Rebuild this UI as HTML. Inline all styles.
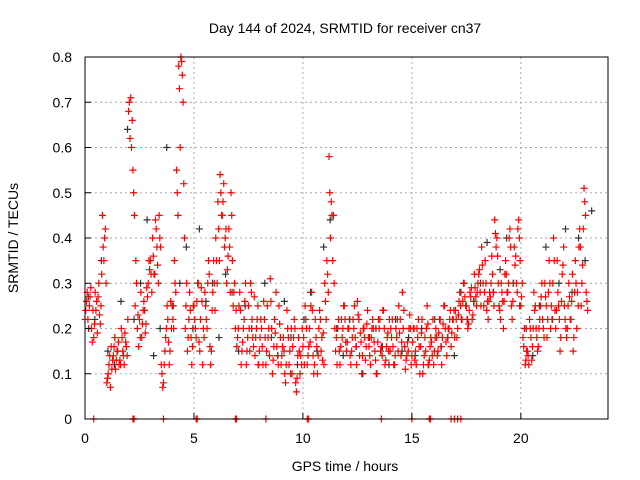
<!DOCTYPE html>
<html><head><meta charset="utf-8"><style>
body{margin:0;background:#fff;width:640px;height:480px;overflow:hidden}
svg{display:block}
text{font-family:"Liberation Sans",sans-serif;font-size:14px;fill:#000}
</style></head><body>
<svg id="chart" width="640" height="480">
<text x="345" y="33" text-anchor="middle">Day 144 of 2024, SRMTID for receiver cn37</text>
<text x="345" y="471" text-anchor="middle">GPS time / hours</text>
<text transform="translate(18,238) rotate(-90)" text-anchor="middle">SRMTID / TECUs</text>
<g id="grid"></g><g id="marks"></g>
<rect x="85" y="57" width="523" height="362" fill="none" stroke="#000" stroke-width="1"/>
<g id="ticks"></g>
</svg>
<script>
const xTicks=[0,5,10,15,20];
const yTicks=[0,0.1,0.2,0.3,0.4,0.5,0.6,0.7,0.8];
const yTickLabels=["0","0.1","0.2","0.3","0.4","0.5","0.6","0.7","0.8"];
const sampleStep=0.1;
const redA=[.22,.28,.25,.20,.18,.24,.27,.21,.45,.40,
.08,.12,.16,.14,.11,.15,.13,.18,.12,.16,
.68,.71,.55,.25,.20,.22,.18,.26,.21,.30,
.35,.40,.32,.38,.45,.12,.08,.18,.22,.15,
.25,.35,.55,.78,.80,.70,.20,.15,.28,.12,
.25,.18,.30,.22,.12,.28,.20,.32,.15,.35,
.40,.48,.54,.45,.38,.30,.42,.50,.25,.20,
.18,.28,.15,.22,.12,.25,.30,.18,.14,.22,
.15,.20,.26,.12,.18,.31,.10,.22,.16,.25,
.12,.18,.08,.20,.15,.10,.22,.06,.18,.14,
.16,.25,.12,.20,.28,.10,.18,.14,.22,.13,
.30,.35,.58,.48,.45,.15,.20,.12,.18,.25,
.15,.20,.12,.22,.18,.26,.14,.10,.20,.16,
.18,.12,.22,.15,.10,.20,.16,.24,.13,.19,
.15,.22,.12,.18,.25,.14,.20,.11,.17,.23,
.14,.20,.12,.22,.16,.10,.18,.25,.13,.17,
.12,.20,.15,.22,.18,.25,.14,.20,.16,.22,
.24,.20,.28,.22,.30,.25,.21,.27,.23,.29,
.28,.33,.38,.25,.30,.22,.27,.32,.44,.40,
.25,.30,.20,.35,.28,.42,.22,.38,.30,.44,
.25,.18,.12,.15,.22,.13,.28,.20,.16,.25,
.22,.30,.18,.35,.25,.40,.20,.28,.15,.32,
.25,.18,.30,.22,.15,.35,.28,.42,.30,.51,.28];
const redB=[.26,.20,.29,.24,.28,.19,.23,.32,.35,.30,
.10,.07,.13,.18,.15,.12,.20,.14,.17,.22,
.62,.66,.45,.30,.16,.28,.24,.19,.27,.33,
.28,.32,.42,.30,.38,.07,.15,.25,.12,.20,
.20,.28,.45,.60,.76,.40,.30,.22,.18,.25,
.20,.30,.15,.26,.18,.22,.35,.12,.28,.24,
.30,.35,.45,.52,.42,.36,.28,.35,.30,.16,
.25,.12,.20,.30,.18,.15,.22,.27,.20,.12,
.22,.12,.18,.25,.14,.20,.16,.28,.12,.18,
.16,.10,.24,.12,.20,.18,.08,.14,.10,.20,
.12,.20,.16,.25,.14,.22,.10,.24,.18,.12,
.22,.28,.40,.35,.20,.12,.15,.22,.25,.17,
.20,.14,.18,.25,.12,.22,.17,.20,.13,.24,
.14,.20,.17,.10,.22,.15,.24,.12,.18,.22,
.18,.12,.20,.15,.22,.28,.16,.14,.20,.12,
.20,.15,.18,.10,.22,.14,.20,.12,.18,.22,
.18,.14,.22,.12,.25,.17,.20,.24,.22,.18,
.18,.26,.22,.30,.25,.20,.28,.22,.32,.25,
.32,.25,.30,.35,.26,.28,.36,.25,.38,.30,
.22,.26,.32,.28,.40,.25,.30,.36,.42,.35,
.30,.20,.15,.12,.18,.20,.25,.15,.22,.30,
.18,.25,.28,.20,.30,.24,.35,.22,.26,.38,
.20,.25,.22,.32,.28,.20,.38,.25,.42,.45,.24];
const redC=[.24,.22,.27,.17,.21,.26,.30,.25,.38,.42,
.09,.14,.11,.16,.13,.17,.12,.15,.19,.14,
.70,.60,.50,.35,.23,.18,.21,.24,.29,.35,
.32,.36,.44,.34,.40,.10,.12,.20,.17,.26,
.22,.30,.50,.73,.79,.52,.25,.18,.24,.16,
.22,.26,.17,.29,.20,.25,.30,.16,.24,.30,
.35,.42,.50,.48,.40,.33,.38,.45,.28,.24,
.20,.24,.17,.26,.15,.20,.28,.16,.18,.25,
.18,.16,.22,.15,.20,.26,.13,.19,.14,.21,
.14,.15,.12,.18,.10,.16,.20,.09,.15,.12,
.18,.22,.14,.17,.24,.12,.16,.20,.15,.19,
.26,.32,.50,.45,.30,.18,.22,.16,.20,.22,
.17,.22,.15,.20,.16,.23,.19,.14,.18,.21,
.16,.18,.20,.13,.17,.22,.14,.20,.16,.15,
.20,.16,.14,.22,.19,.17,.24,.13,.15,.20,
.17,.13,.20,.16,.19,.12,.15,.21,.16,.14,
.15,.18,.19,.16,.21,.20,.18,.22,.19,.24,
.22,.23,.25,.26,.27,.22,.24,.29,.26,.27,
.30,.28,.34,.28,.24,.26,.30,.28,.41,.36,
.24,.28,.26,.32,.30,.38,.26,.34,.28,.40,
.27,.16,.13,.14,.20,.16,.24,.18,.20,.27,
.20,.27,.22,.30,.22,.35,.24,.25,.18,.34,
.22,.20,.27,.26,.18,.30,.25,.38,.34,.48,.26];
const blackStep=0.3;
const blackVals=[.27,.22,.35,.15,.12,.26,.64,.22,.30,.44,.14,.20,.60,.25,.30,.38,.20,.42,.26,.30,.18,.32,.28,.15,.25,.20,.12,.30,.18,.14,.26,.18,.12,.22,.28,.15,.38,.44,.20,.14,.22,.16,.10,.18,.20,.16,.12,.22,.15,.18,.14,.20,.12,.22,.16,.18,.14,.28,.22,.26,.30,.39,.28,.33,.40,.30,.25,.20,.14,.25,.38,.22,.30,.42,.28,.40,.35,.46];
const zeroTimes=[0.4,2.2,2.25,3.6,5.1,5.15,6.9,6.95,8.3,10.2,10.25,13.6,15.0,15.8,15.85,16.8,16.95,17.1,17.25];
const X=h=>85+h*(523/24), Y=v=>419-v*(362/0.8);
const ns="http://www.w3.org/2000/svg";
const grid=document.getElementById('grid'),marks=document.getElementById('marks'),ticks=document.getElementById('ticks');
function mk(tag,attrs,parent){const e=document.createElementNS(ns,tag);for(const k in attrs)e.setAttribute(k,attrs[k]);parent.appendChild(e);return e;}
xTicks.forEach(t=>{
 if(t>0){const g=mk('line',{x1:X(t),x2:X(t),y1:57,y2:419,stroke:'#aaa','stroke-dasharray':'2,3'},grid);
 
 }
 const tk=mk('line',{x1:X(t),x2:X(t),y1:419,y2:413,stroke:'#000'},ticks);
 
 
 const l=mk('text',{x:X(t),y:443,'text-anchor':'middle'},ticks);l.textContent=t;
 
 
});
yTicks.forEach((t,i)=>{
 if(t>0&&t<0.8){const g=mk('line',{x1:85,x2:608,y1:Y(t),y2:Y(t),stroke:'#aaa','stroke-dasharray':'2,3'},grid);
 
 }
 const tk=mk('line',{x1:85,x2:91,y1:Y(t),y2:Y(t),stroke:'#000'},ticks);
 
 
 const l=mk('text',{x:72,y:Y(t)+5,'text-anchor':'end'},ticks);l.textContent=yTickLabels[i];
 
 
});
function plus(h,v,color,name){
 const x=X(h),y=Y(v);
 const p=mk('path',{d:`M${x-3.5},${y}H${x+3.5}M${x},${y-3.5}V${y+3.5}`,stroke:color,'stroke-width':1.2,fill:'none'},marks);
 
 
}
blackVals.forEach((v,i)=>plus(0.15+i*blackStep,v,'#333','black-point'));
redA.forEach((v,i)=>plus(i*sampleStep,v,'#f00','red-point'));
redC.forEach((v,i)=>plus(i*sampleStep+0.033,v,'#f00','red-point'));
redB.forEach((v,i)=>plus(i*sampleStep+0.066,v,'#f00','red-point'));
zeroTimes.forEach(t=>plus(t,0,'#f00','red-zero-point'));
</script>
</body></html>
